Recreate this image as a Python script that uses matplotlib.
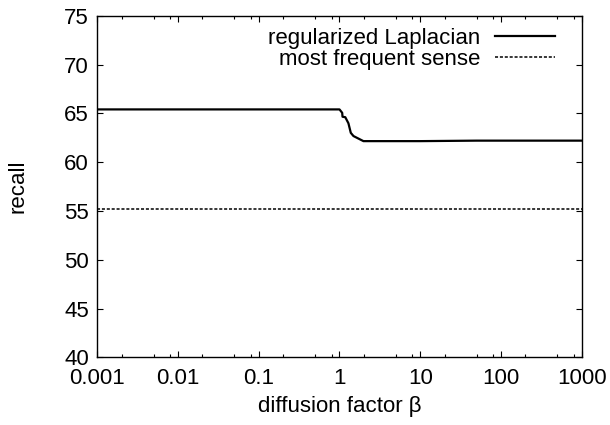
import matplotlib
matplotlib.use("Agg")
import matplotlib.pyplot as plt
from matplotlib.ticker import LogLocator, FixedLocator, NullFormatter

plt.rcParams['font.family'] = ['Liberation Sans', 'DejaVu Sans']

beta = [0.001, 0.01, 0.1, 1.0, 1.08, 1.09, 1.18, 1.29, 1.38, 1.49, 1.98, 5, 10, 50, 100, 1000]
recall_lap = [65.4, 65.4, 65.4, 65.4, 65.05, 64.65, 64.6, 63.98, 63.0, 62.67, 62.15, 62.15, 62.15, 62.2, 62.2, 62.2]
mfs_x = [0.001, 1000]
mfs_y = [55.2, 55.2]

xticks = [0.001, 0.01, 0.1, 1, 10, 100, 1000]
xticklabels = ["0.001", "0.01", "0.1", "1", "10", "100", "1000"]
yticks = [40, 45, 50, 55, 60, 65, 70, 75]

FS = 16

fig = plt.figure(figsize=(6.1, 4.25), dpi=100)
ax = fig.add_axes([0.1595, 0.1593, 0.7941, 0.8037])

ax.plot(beta, recall_lap, color='black', lw=1.6, label='regularized Laplacian')
ax.plot(mfs_x, mfs_y, color='black', lw=1.1, linestyle=(0, (2, 1.2)), label='most frequent sense')

ax.set_xscale('log')
ax.set_xlim(0.001, 1000)
ax.set_ylim(40, 75)
ax.xaxis.set_major_locator(FixedLocator(xticks))
ax.set_xticklabels(xticklabels)
ax.xaxis.set_minor_locator(LogLocator(base=10, subs=[2, 5, 8], numticks=20))
ax.xaxis.set_minor_formatter(NullFormatter())
ax.set_yticks(yticks)
ax.set_yticklabels([str(v) for v in yticks])

ax.tick_params(which='both', direction='in', top=True, right=True, labelsize=FS, width=0.8)
ax.tick_params(axis='x', pad=8)
ax.tick_params(axis='y', pad=6)
ax.tick_params(which='major', length=4.5)
ax.tick_params(which='minor', length=2.2)
for s in ax.spines.values():
    s.set_linewidth(1.0)

ax.set_xlabel('diffusion factor β', fontsize=FS, labelpad=5)
ax.set_ylabel('recall', fontsize=FS, labelpad=26)

leg = ax.legend(loc='upper right', frameon=False, markerfirst=False, fontsize=FS,
                handlelength=2.7, handletextpad=0.65, labelspacing=-0.02,
                borderaxespad=0.15, bbox_to_anchor=(0.97, 1.0))

fig.savefig('out.png', dpi=100)
